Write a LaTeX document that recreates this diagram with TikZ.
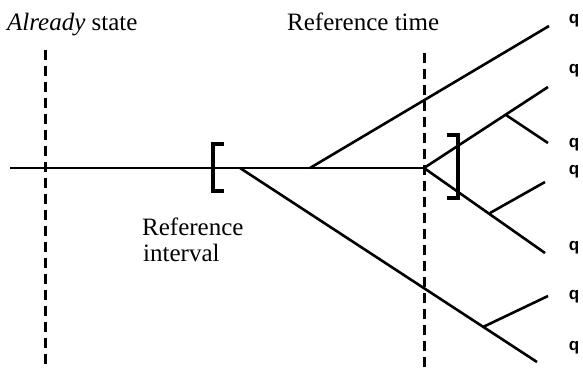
\documentclass[tikz,border=0pt]{standalone}
\usepackage{fontspec}
\setmainfont{Liberation Serif}
\setsansfont{Liberation Sans}
\begin{document}
\begin{tikzpicture}[x=1pt,y=-1pt,
  ln/.style={line width=2.6pt},
  dsh/.style={line width=3pt, dash pattern=on 10pt off 6pt},
  brk/.style={line width=3.4pt},
  lbl/.style={font=\fontsize{25}{28}\selectfont, inner sep=0pt},
  qlbl/.style={font=\sffamily\bfseries\fontsize{17}{18}\selectfont, inner sep=0pt}]
\useasboundingbox (0,0) rectangle (583,369);
% dashed lines
\coordinate (LT) at (45,50);
\coordinate (LB) at (45,369);
\coordinate (RT) at (424,53);
\coordinate (RB) at (424,369);
\draw[dsh] (LT) -- (LB);
\draw[dsh] (RT) -- (RB);
% main line
\coordinate (S) at (10,168);
\coordinate (V) at (424,168);
\draw[ln] (S) -- (V);
% upper long branch
\coordinate (U0) at (310,168);
\coordinate (U1) at (549,26);
\draw[ln] (U0) -- (U1);
% lower long branch
\coordinate (D0) at (240,168);
\coordinate (D1) at (537,362);
\draw[ln] (D0) -- (D1);
\coordinate (DJ) at (483,327);
\coordinate (DE) at (548,296);
\draw[ln] (DJ) -- (DE);
% branches from vertex
\coordinate (VU) at (548,87);
\coordinate (VD) at (545,253);
\draw[ln] (V) -- (VU);
\draw[ln] (V) -- (VD);
\coordinate (UJ) at (506,115);
\coordinate (UE) at (548,143);
\draw[ln] (UJ) -- (UE);
\coordinate (LJ) at (490,213);
\coordinate (LE) at (545,182);
\draw[ln] (LJ) -- (LE);
% brackets
\coordinate (B1a) at (224,144);
\coordinate (B1b) at (213,144);
\coordinate (B1c) at (213,191);
\coordinate (B1d) at (224,191);
\draw[brk] (B1a) -- (B1b) -- (B1c) -- (B1d);
\coordinate (B2a) at (447,135);
\coordinate (B2b) at (458,135);
\coordinate (B2c) at (458,198);
\coordinate (B2d) at (447,198);
\draw[brk] (B2a) -- (B2b) -- (B2c) -- (B2d);
% labels
\node[lbl, anchor=base west] (al) at (7,31) {\textit{Already} state};
\node[lbl, anchor=base west] (rt) at (287,31) {Reference time};
\node[lbl, anchor=base west] (ri1) at (142,235) {Reference};
\node[lbl, anchor=base west] (ri2) at (143,261) {interval};
% q labels
\foreach \y/\n in {21/q1,71/q2,145/q3,172/q4,248/q5,297/q6,348/q7}
  \node[qlbl] (\n) at (574,\y) {q};
\end{tikzpicture}
\end{document}
